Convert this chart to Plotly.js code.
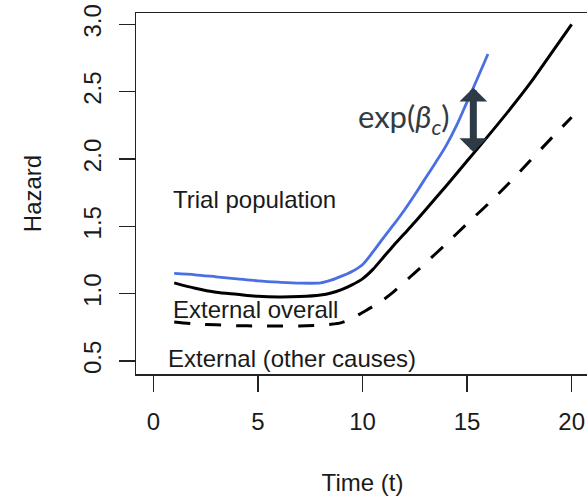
<!DOCTYPE html>
<html>
<head>
<meta charset="utf-8">
<script src="https://cdn.plot.ly/plotly-3.0.1.min.js"></script>
<style>
  html, body { margin: 0; padding: 0; overflow: hidden; background: #ffffff; }
  #chart { width: 589px; height: 498px; }
</style>
</head>
<body>
<div id="chart"></div>
<script>
// Hazard over time: trial population vs. external data (overall and other causes)
const trialTime    = [1, 2, 3, 4, 5, 6, 7, 8, 8.5, 9, 9.5, 10, 10.5, 11, 11.5, 12, 12.5, 13, 13.5, 14, 14.5, 15, 15.5, 16];
const trialHazard  = [1.15, 1.14, 1.125, 1.11, 1.095, 1.085, 1.078, 1.08, 1.10, 1.13, 1.165, 1.215, 1.31, 1.415, 1.515, 1.62, 1.735, 1.855, 1.975, 2.10, 2.25, 2.425, 2.60, 2.78];

const overallTime   = [1, 2, 3, 4, 5, 6, 7, 8, 8.5, 9, 9.5, 10, 10.5, 11, 11.5, 12, 12.5, 13, 14, 15, 16, 17, 18, 19, 20];
const overallHazard = [1.08, 1.04, 1.01, 0.995, 0.98, 0.975, 0.978, 0.99, 1.005, 1.03, 1.065, 1.11, 1.18, 1.27, 1.36, 1.445, 1.53, 1.62, 1.80, 1.985, 2.17, 2.36, 2.56, 2.78, 3.00];

const otherTime   = [1, 2, 3, 4, 5, 6, 7, 8, 8.5, 9, 9.5, 10, 10.5, 11, 11.5, 12, 12.5, 13, 14, 15, 16, 17, 18, 19, 20];
const otherHazard = [0.79, 0.775, 0.768, 0.762, 0.76, 0.76, 0.76, 0.766, 0.772, 0.785, 0.815, 0.86, 0.905, 0.955, 1.015, 1.085, 1.155, 1.225, 1.37, 1.52, 1.665, 1.82, 1.985, 2.15, 2.31];

const xTicks = [0, 5, 10, 15, 20];
const yTicks = [0.5, 1.0, 1.5, 2.0, 2.5, 3.0];

// time at which the exp(beta_c) gap between trial and external overall is marked
const gapTime = 15.3;

function interp(xs, ys, x) {
  for (let i = 0; i < xs.length - 1; i++) {
    if (x >= xs[i] && x <= xs[i + 1]) {
      const t = (x - xs[i]) / (xs[i + 1] - xs[i]);
      return ys[i] + t * (ys[i + 1] - ys[i]);
    }
  }
  return ys[ys.length - 1];
}
const gapTop = interp(trialTime, trialHazard, gapTime);
const gapBottom = interp(overallTime, overallHazard, gapTime);

const FONT = '"Liberation Sans", Arial, sans-serif';
const INK = '#1a1a1a';
const AXIS = '#222222';

const traces = [
  {
    x: otherTime, y: otherHazard, type: 'scatter', mode: 'lines',
    name: 'External (other causes)',
    line: { color: '#000000', width: 3, dash: '16px,15px', shape: 'spline', smoothing: 0.8 },
    hoverinfo: 'skip'
  },
  {
    x: overallTime, y: overallHazard, type: 'scatter', mode: 'lines',
    name: 'External overall',
    line: { color: '#000000', width: 3, shape: 'spline', smoothing: 0.8 },
    hoverinfo: 'skip'
  },
  {
    x: trialTime, y: trialHazard, type: 'scatter', mode: 'lines',
    name: 'Trial population',
    line: { color: '#4a6fe3', width: 2.8, shape: 'spline', smoothing: 0.8 },
    hoverinfo: 'skip'
  }
];

const labelFont = { family: FONT, size: 24, color: INK };

const layout = {
  width: 589,
  height: 498,
  margin: { l: 136, r: 0, t: 13, b: 124, pad: 0 },
  paper_bgcolor: '#ffffff',
  plot_bgcolor: '#ffffff',
  showlegend: false,
  font: { family: FONT, size: 24, color: INK },
  xaxis: {
    range: [-0.827, 20.83],
    tickmode: 'array', tickvals: xTicks,
    ticks: 'outside', ticklen: 16, tickwidth: 1.5, tickcolor: AXIS,
    ticklabelstandoff: 10,
    showline: true, linecolor: AXIS, linewidth: 1.5, mirror: true,
    showgrid: false, zeroline: false,
    tickfont: { family: FONT, size: 24, color: INK },
    title: { text: 'Time (t)', font: { family: FONT, size: 24, color: INK }, standoff: 40 }
  },
  yaxis: {
    range: [0.403, 3.085],
    tickmode: 'array', tickvals: yTicks, tickformat: '.1f',
    tickangle: -90,
    ticks: 'outside', ticklen: 16, tickwidth: 1.5, tickcolor: AXIS,
    ticklabelstandoff: 8,
    showline: true, linecolor: AXIS, linewidth: 1.5, mirror: true,
    showgrid: false, zeroline: false,
    tickfont: { family: FONT, size: 24, color: INK },
    title: { text: 'Hazard', font: { family: FONT, size: 24, color: INK }, standoff: 30 }
  },
  annotations: [
    { x: 0.85, y: 1.70, xref: 'x', yref: 'y', text: 'Trial population', showarrow: false,
      xanchor: 'left', yanchor: 'middle', font: labelFont },
    { x: 0.85, y: 0.88, xref: 'x', yref: 'y', text: 'External overall', showarrow: false,
      xanchor: 'left', yanchor: 'middle', font: labelFont },
    { x: 0.61, y: 0.515, xref: 'x', yref: 'y', text: 'External (other causes)', showarrow: false,
      xanchor: 'left', yanchor: 'middle', font: labelFont },
    { x: 14.28, y: 2.30, xref: 'x', yref: 'y',
      text: 'exp(<i>β</i><sub><i>c</i></sub>)', showarrow: false,
      xanchor: 'right', yanchor: 'middle',
      font: { family: 'Lato, "Open Sans", sans-serif', size: 31, color: '#333a40' } },
    { x: gapTime, y: gapTop, ax: gapTime, ay: gapBottom,
      xref: 'x', yref: 'y', axref: 'x', ayref: 'y',
      text: '', showarrow: true, arrowside: 'end+start',
      arrowhead: 1, startarrowhead: 1, arrowsize: 0.66, startarrowsize: 0.66,
      arrowwidth: 7, arrowcolor: '#2d3b46', standoff: 0, startstandoff: 0 }
  ]
};

Plotly.newPlot('chart', traces, layout, { staticPlot: true, displayModeBar: false });
</script>
</body>
</html>
